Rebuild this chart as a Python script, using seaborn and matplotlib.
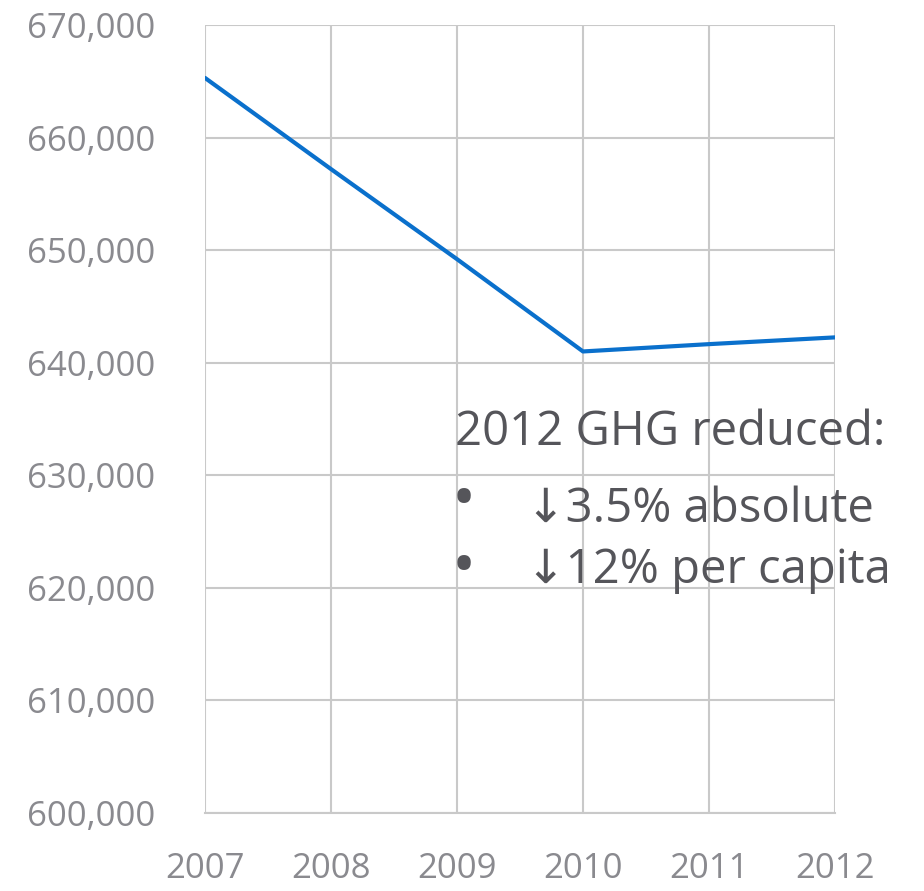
import matplotlib
matplotlib.use("Agg")
import matplotlib.pyplot as plt
import seaborn as sns
import pandas as pd
from matplotlib.ticker import FuncFormatter

years = [2007, 2008, 2009, 2010, 2011, 2012]
emissions = [665300, 657200, 649200, 641000, 641650, 642250]
y_ticks = [600000, 610000, 620000, 630000, 640000, 650000, 660000, 670000]
note_lines = ["2012 GHG reduced:", "\u2022", "\u21933.5% absolute", "\u2022", "\u219312% per capita"]

df = pd.DataFrame({"year": years, "emissions": emissions})

sns.set_theme(style="white")
plt.rcParams['font.family'] = ['Open Sans', 'DejaVu Sans']

fig = plt.figure(figsize=(9.24, 8.91), dpi=100)
W, H = 924, 891
ax = fig.add_axes([205 / W, 1 - 813 / H, (835 - 205) / W, (813 - 25) / H])

sns.lineplot(data=df, x="year", y="emissions", ax=ax, color="#0a70cc", linewidth=3)

ax.set_xlim(2007, 2012)
ax.set_ylim(600000, 670000)
ax.set_yticks(y_ticks)
ax.set_xticks(years)
ax.yaxis.set_major_formatter(FuncFormatter(lambda v, p: f"{int(v):,}"))
ax.grid(True, color="#c9c9c9", linewidth=1.5)
ax.set_axisbelow(True)
for s in ["top", "right", "left"]:
    ax.spines[s].set_visible(False)
ax.spines["bottom"].set_color("#c9c9c9")
ax.spines["bottom"].set_linewidth(1.5)
ax.tick_params(axis="both", length=0, labelsize=25, labelcolor="#8a8a8f")
ax.tick_params(axis="y", pad=36)
ax.tick_params(axis="x", pad=28)
ax.set_xlabel("")
ax.set_ylabel("")

txt_color = "#55555a"
fs = 34
fig.text(455 / W, 1 - 445 / H, note_lines[0], fontsize=fs, color=txt_color, va="baseline", ha="left")
fig.text(452 / W, 1 - 519 / H, note_lines[1], fontsize=46, color=txt_color, va="baseline", ha="left")
fig.text(526 / W, 1 - 522 / H, note_lines[2], fontsize=fs, color=txt_color, va="baseline", ha="left")
fig.text(452 / W, 1 - 586 / H, note_lines[3], fontsize=46, color=txt_color, va="baseline", ha="left")
fig.text(526 / W, 1 - 583 / H, note_lines[4], fontsize=fs, color=txt_color, va="baseline", ha="left")

fig.savefig("out.png", dpi=100)
